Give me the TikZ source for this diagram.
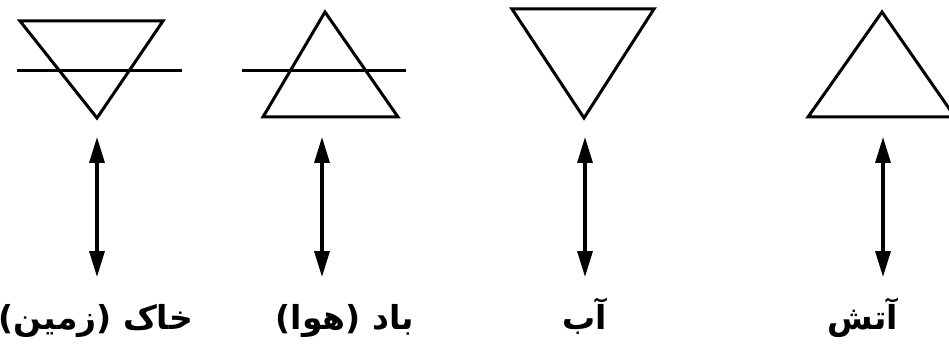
\documentclass[tikz,border=0pt]{standalone}
\usepackage{fontspec}
\newfontfamily\arabicfont[Script=Arabic]{DejaVu Sans}
\TeXXeTstate=1
\usetikzlibrary{arrows.meta}
\tikzset{
  sym/.style={line width=3pt, line join=miter},
  bar/.style={line width=3pt},
  link/.style={line width=3.3pt, {Triangle[length=26pt,width=15pt]}-{Triangle[length=26pt,width=15pt]}},
  lbl/.style={font=\arabicfont\bfseries\fontsize{33}{40}\selectfont, anchor=base, inner sep=0pt}
}
\begin{document}
\begin{tikzpicture}[x=1pt,y=-1pt]
\useasboundingbox (0,0) rectangle (949,347);
% earth
\draw[sym] (20,21) -- (163,21) -- (97,118) -- cycle;
\draw[bar] (17,71) -- (182,71);
% air
\draw[sym] (325,12) -- (398,117) -- (263,117) -- cycle;
\draw[bar] (242,71) -- (406,71);
% water
\draw[sym] (512,9) -- (654,9) -- (584,118) -- cycle;
% fire
\draw[sym] (882,12) -- (955,117) -- (808,117) -- cycle;
% arrow ends
\coordinate (t1) at (97,137);  \coordinate (b1) at (97,277);
\coordinate (t2) at (322,137); \coordinate (b2) at (322,277);
\coordinate (t3) at (585,137); \coordinate (b3) at (585,277);
\coordinate (t4) at (883,137); \coordinate (b4) at (883,277);
\draw[link] (t1) -- (b1);
\draw[link] (t2) -- (b2);
\draw[link] (t3) -- (b3);
\draw[link] (t4) -- (b4);
% labels
\node[lbl] (l1) at (96,329) {\beginR خاک (زمین)\endR};
\node[lbl] (l2) at (345,329) {\beginR باد (هوا)\endR};
\node[lbl] (l3) at (585,329) {\beginR آب\endR};
\node[lbl] (l4) at (863,329) {\beginR آتش\endR};
\end{tikzpicture}
\end{document}
